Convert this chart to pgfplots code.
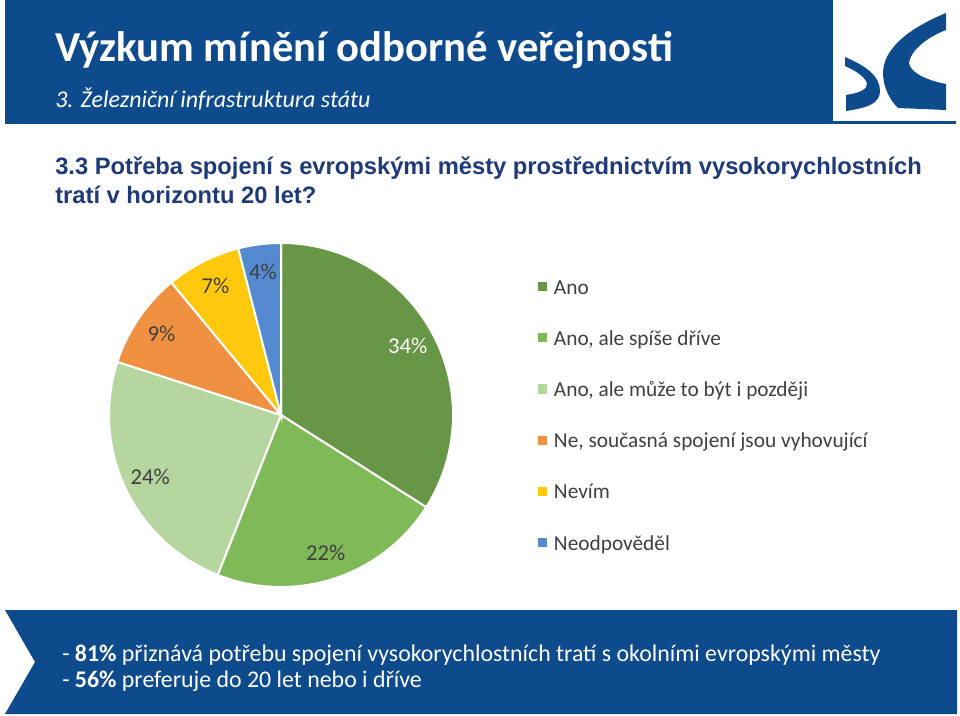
\documentclass[border=0pt]{standalone}
\usepackage{pgfplots}
\pgfplotsset{compat=1.18}
\usepackage{pgfplotstable}
\usepackage{fontspec}
\setmainfont{Carlito}
\newfontfamily\arialfont{Liberation Sans}

\definecolor{hdr}{RGB}{14,75,140}
\definecolor{qblue}{RGB}{31,58,120}
\definecolor{c0}{RGB}{102,150,70}
\definecolor{c1}{RGB}{128,185,88}
\definecolor{c2}{RGB}{182,214,160}
\definecolor{c3}{RGB}{240,145,66}
\definecolor{c4}{RGB}{255,200,12}
\definecolor{c5}{RGB}{84,138,208}
\definecolor{l0}{RGB}{255,255,255}
\definecolor{l1}{RGB}{64,64,64}
\definecolor{l2}{RGB}{64,64,64}
\definecolor{l3}{RGB}{64,64,64}
\definecolor{l4}{RGB}{64,64,64}
\definecolor{l5}{RGB}{64,64,64}
\newcommand\labelfont{\fontsize{17}{20}\selectfont}
\newcommand\lsq[1]{\textcolor{#1}{\rule[2.2pt]{6.8pt}{6.8pt}}\hspace{5.25pt}}

\pgfplotstableread{
value
34
22
24
9
7
4
}\piedata

\begin{document}
\begin{tikzpicture}[x=0.75pt,y=-0.75pt]
\useasboundingbox (0,0) rectangle (960,716);
\fill[white] (0,0) rectangle (960,716);
% header band
\fill[hdr] (5,0) rectangle (833,124);
\fill[hdr] (833,121) rectangle (956,124);
% logo
\fill[hdr] (946,13) .. controls (905,30) and (884,50) .. (883,72)
  .. controls (883,88) and (890,100) .. (898,108) -- (946,110) -- (946,84)
  .. controls (925,80) and (910,72) .. (909,63)
  .. controls (910,52) and (925,38) .. (946,30) -- cycle;
\fill[hdr] (845,57) .. controls (866,66) and (880,76) .. (880,91)
  .. controls (880,104) and (866,108) .. (846,111) -- (846,95)
  .. controls (860,93) and (868,89) .. (867,83)
  .. controls (864,76) and (856,71) .. (845,66) -- cycle;
% titles
\node[anchor=base west, inner sep=0pt, text=white, font=\fontsize{32}{38}\selectfont\bfseries] at (55,62) {Výzkum mínění odborné veřejnosti};
\node[anchor=base west, inner sep=0pt, text=white, font=\fontsize{18}{21}\selectfont\itshape] at (55,108) {3. Železniční infrastruktura státu};
\node[anchor=base west, inner sep=0pt, text=qblue, font=\arialfont\fontsize{17.8}{21}\selectfont\bfseries] at (55,175) {3.3 Potřeba spojení s evropskými městy prostřednictvím vysokorychlostních};
\node[anchor=base west, inner sep=0pt, text=qblue, font=\arialfont\fontsize{17.8}{21}\selectfont\bfseries] at (55,204) {tratí v horizontu 20 let?};
% bottom box
\fill[hdr] (5,610) -- (957,610) -- (957,714) -- (5,714) -- (35,662) -- cycle;
\node[anchor=base west, inner sep=0pt, text=white, font=\fontsize{17.9}{21}\selectfont] at (62,661) {- \textbf{81\%} přiznává potřebu spojení vysokorychlostních tratí s okolními evropskými městy};
\node[anchor=base west, inner sep=0pt, text=white, font=\fontsize{17.9}{21}\selectfont] at (62,687) {- \textbf{56\%} preferuje do 20 let nebo i dříve};
\coordinate (piec) at (281,415);
\begin{scope}[x=1cm,y=1cm]
\begin{axis}[
  at={(piec)}, anchor=center,
  width=258pt, height=258pt, scale only axis,
  hide axis, clip=false,
  xmin=-1, xmax=1, ymin=-1, ymax=1,
  legend cell align=left,
  legend image code/.code={\path (0pt,0pt);},
  legend style={draw=none, fill=none, inner sep=0pt, outer sep=0pt,
    at={(1.241,0.898)}, anchor=north west, row sep=25.4pt,
    font=\fontsize{16}{19}\selectfont, text=black!75,
    nodes={inner sep=0pt, text height=12pt, text depth=1pt}},
  legend entries={\lsq{c0}Ano, {\lsq{c1}Ano, ale spíše dříve}, {\lsq{c2}Ano, ale může to být i později}, {\lsq{c3}Ne, současná spojení jsou vyhovující}, \lsq{c4}Nevím, \lsq{c5}Neodpověděl},
]
\xdef\cumul{0}
\pgfplotsinvokeforeach{0,...,5}{
  \pgfplotstablegetelem{#1}{value}\of\piedata
  \pgfmathsetmacro\va{\pgfplotsretval}
  \pgfmathtruncatemacro\vi{\va}
  \pgfmathsetmacro\sa{90-3.6*\cumul}
  \pgfmathsetmacro\ea{90-3.6*(\cumul+\va)}
  \pgfmathsetmacro\ma{(\sa+\ea)/2}
  \pgfmathsetmacro\lx{0.84*cos(\ma)}
  \pgfmathsetmacro\ly{0.84*sin(\ma)}
  \edef\doslice{\noexpand\addplot[fill=c#1, draw=white, line width=1.5pt, domain=\ea:\sa, samples=80] ({cos(x)},{sin(x)}) -- (axis cs:0,0) -- cycle;}
  \doslice
  \edef\dolabel{\noexpand\node[font=\noexpand\labelfont, text=l#1, inner sep=0pt] at (axis cs:\lx,\ly) {\vi\noexpand\%};}
  \dolabel
  \pgfmathsetmacro\nc{\cumul+\va}
  \xdef\cumul{\nc}
}
\end{axis}
\end{scope}
\end{tikzpicture}
\end{document}
